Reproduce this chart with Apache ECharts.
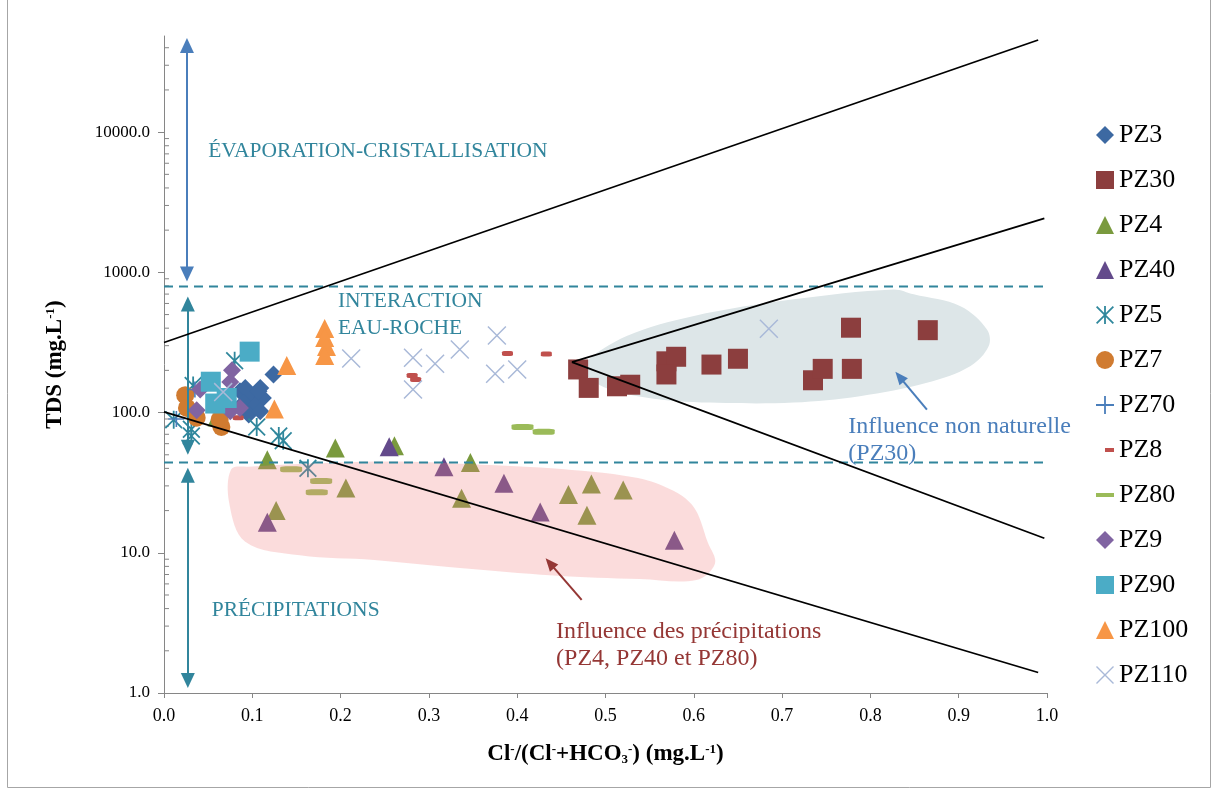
<!DOCTYPE html>
<html>
<head>
<meta charset="utf-8">
<title>TDS vs Cl/(Cl+HCO3)</title>
<script src="https://cdn.jsdelivr.net/npm/echarts@6/dist/echarts.min.js"></script>
<style>
  html, body { margin: 0; padding: 0; background: #fff; }
  #chart { width: 1213px; height: 791px; }
</style>
</head>
<body>
<div id="chart"></div>
<script>
// ---- data (x = Cl/(Cl+HCO3), y = TDS mg/L) ----
const pz3 = [[0.124, 187], [0.086, 142], [0.092, 150], [0.109, 150], [0.099, 131], [0.112, 127], [0.090, 117], [0.103, 111], [0.096, 97], [0.109, 102], [0.107, 142]]
const pz30 = [[0.469, 203], [0.481, 150], [0.513, 154], [0.528, 158], [0.569, 232], [0.580, 250], [0.569, 187], [0.620, 220], [0.650, 242], [0.735, 170], [0.746, 205], [0.778, 403], [0.779, 205], [0.865, 387]]
const pz4 = [[0.060, 93], [0.117, 46], [0.194, 56], [0.261, 58], [0.127, 20], [0.206, 29], [0.347, 44], [0.337, 24.5], [0.458, 26], [0.484, 31], [0.479, 18.5], [0.520, 28]]
const pz40 = [[0.117, 16.5], [0.255, 57], [0.317, 41], [0.385, 31.3], [0.426, 19.5], [0.578, 12.3]]
const pz5 = [[0.080, 234], [0.033, 156], [0.011, 89], [0.031, 76], [0.031, 68], [0.105, 79], [0.130, 68], [0.135, 63], [0.163, 40]]
const pz7 = [[0.024, 133], [0.026, 108], [0.037, 92], [0.065, 79], [0.063, 89]]
const pz70 = [[0.035, 146], [0.014, 90]]
const pz8 = [[0.084, 92], [0.281, 184], [0.285, 172], [0.389, 264], [0.433, 262]]
const pz80 = [[0.406, 79], [0.430, 73], [0.144, 39.5], [0.178, 32.5], [0.173, 27]]
const pz9 = [[0.077, 200], [0.075, 165], [0.041, 146], [0.037, 104], [0.075, 102], [0.086, 108]]
const pz90 = [[0.097, 272], [0.053, 166], [0.058, 116], [0.071, 127]]
const pz100 = [[0.182, 398], [0.182, 343], [0.184, 296], [0.182, 255], [0.139, 217], [0.125, 106]]
const pz110 = [[0.067, 140], [0.212, 243], [0.282, 246], [0.282, 146], [0.307, 223], [0.335, 282], [0.377, 355], [0.375, 189], [0.400, 203], [0.685, 396]]

// guide lines
const line1 = [[0, 316], [0.99, 45400]]
const line2 = [[0, 101], [0.99, 1.4]]
const wedgeUp = [[0.462, 229], [0.997, 2430]]
const wedgeDown = [[0.462, 229], [0.997, 12.7]]
const limitHigh = [[0, 794], [0.998, 794]]
const limitLow = [[0, 44], [0.998, 44]]

// shaded zones (outline in data units)
const zoneNonNatural = [[0.475, 220], [0.524, 351], [0.599, 487], [0.713, 642], [0.826, 756], [0.849, 697], [0.902, 574], [0.932, 392], [0.934, 298], [0.913, 214], [0.864, 163], [0.788, 131], [0.713, 118], [0.637, 117], [0.562, 124], [0.505, 146], [0.479, 182]]
const zonePrecip = [[0.076, 39.2], [0.074, 22.4], [0.092, 12.0], [0.154, 9.6], [0.238, 8.9], [0.335, 7.8], [0.441, 6.9], [0.539, 6.5], [0.603, 6.4], [0.624, 8.4], [0.616, 11.8], [0.598, 22.0], [0.562, 30.6], [0.521, 35.5], [0.426, 40.5], [0.359, 42.5], [0.267, 44.7], [0.197, 44.0], [0.096, 41.1]]

const xTicks = [0, 0.1, 0.2, 0.3, 0.4, 0.5, 0.6, 0.7, 0.8, 0.9, 1.0]
const yMax = 48500

const serif = "'Liberation Serif', 'Times New Roman', serif"
const teal = '#31859c'

const minorTickVals = []
for (let d = 0; d <= 4; d++) {
  for (let m = 2; m <= 9; m++) {
    const v = m * Math.pow(10, d)
    if (v < yMax) minorTickVals.push([0, v])
  }
}

const asterisk = 'path://M9,0H11V20H9Z M0,1.4L1.4,0L20,18.6L18.6,20Z M18.6,0L20,1.4L1.4,20L0,18.6Z'
const cross = 'path://M0,1.1L1.1,0L20,18.9L18.9,20Z M18.9,0L20,1.1L1.1,20L0,18.9Z'
const plus = 'path://M9,0H11V20H9Z M0,9H20V11H0Z'
const smallDash = 'path://M0,0L0.01,0L0,0.01Z M18,18L17.99,18L18,17.99Z M9,7H18V11H9Z'
const longDash = 'path://M0,0L0.01,0L0,0.01Z M18,18L17.99,18L18,17.99Z M0,7H18V11H0Z'

function scatter(name, data, symbol, size, color) {
  return {
    name: name,
    type: 'scatter',
    data: data,
    symbol: symbol,
    symbolSize: size,
    itemStyle: { color: color, opacity: 1 },
    z: 3,
    emphasis: { disabled: true }
  }
}

function guide(data, color, width, type) {
  return {
    type: 'line',
    data: data,
    symbol: 'none',
    silent: true,
    z: 5,
    lineStyle: { color: color, width: width, type: type || 'solid' },
    emphasis: { disabled: true }
  }
}

function zone(pts, color, opacity, z) {
  return {
    type: 'custom',
    data: [pts[0]],
    silent: true,
    clip: false,
    z: z,
    renderItem: (params, api) => ({
      type: 'polygon',
      shape: { points: pts.map(p => api.coord(p)), smooth: 0.35 },
      style: { fill: color, opacity: opacity }
    })
  }
}

const chart = echarts.init(document.getElementById('chart'))

const option = {
  animation: false,
  backgroundColor: '#fff',
  grid: { left: 164, right: 166, top: 36, bottom: 98, containLabel: false, outerBoundsMode: 'none' },
  legend: {
    orient: 'vertical',
    left: 1091,
    top: 117,
    itemWidth: 18,
    itemHeight: 18,
    itemGap: 19,
    textStyle: { fontFamily: serif, fontSize: 26, color: '#000' },
    data: [
      'PZ3', 'PZ30', 'PZ4', 'PZ40', 'PZ5', 'PZ7', 'PZ70',
      { name: 'PZ8', icon: smallDash },
      { name: 'PZ80', icon: longDash },
      'PZ9', 'PZ90', 'PZ100', 'PZ110'
    ]
  },
  xAxis: {
    type: 'value',
    min: 0,
    max: 1,
    interval: 0.1,
    axisLine: { show: true, onZero: false, lineStyle: { color: '#868686', width: 1 } },
    axisTick: { show: true, length: 5, lineStyle: { color: '#868686' } },
    splitLine: { show: false },
    axisLabel: {
      formatter: v => xTicks.includes(Math.round(v * 10) / 10) ? v.toFixed(1) : '',
      fontFamily: serif,
      fontSize: 18,
      color: '#000',
      margin: 14
    },
    name: 'Cl{sup|-}/(Cl{sup|-}+HCO{sub|3}{sup|-}) (mg.L{sup|-1})',
    nameLocation: 'middle',
    nameGap: 50,
    nameTextStyle: {
      fontFamily: serif,
      fontWeight: 'bold',
      fontSize: 23,
      color: '#000',
      rich: {
        sup: { fontFamily: serif, fontWeight: 'bold', fontSize: 13, color: '#000', verticalAlign: 'top' },
        sub: { fontFamily: serif, fontWeight: 'bold', fontSize: 13, color: '#000', verticalAlign: 'bottom' }
      }
    }
  },
  yAxis: {
    type: 'log',
    logBase: 10,
    min: 1,
    max: yMax,
    axisLine: { show: true, lineStyle: { color: '#868686', width: 1 } },
    axisTick: { show: true, length: 6, lineStyle: { color: '#868686' } },
    splitLine: { show: false },
    axisLabel: {
      formatter: v => Number(v).toFixed(1),
      showMaxLabel: false,
      fontFamily: serif,
      fontSize: 17,
      color: '#000',
      margin: 14
    },
    name: 'TDS (mg.L{sup|-1})',
    nameLocation: 'middle',
    nameGap: 97,
    nameTextStyle: {
      fontFamily: serif,
      fontWeight: 'bold',
      fontSize: 23,
      color: '#000',
      rich: {
        sup: { fontFamily: serif, fontWeight: 'bold', fontSize: 13, color: '#000', verticalAlign: 'top' }
      }
    }
  },
  series: [
    zone(zoneNonNatural, '#dde6e8', 1, 1),
    {
      type: 'custom',
      data: minorTickVals,
      silent: true,
      clip: false,
      z: 2,
      renderItem: (params, api) => {
        const p = api.coord([0, api.value(1)])
        return {
          type: 'line',
          shape: { x1: p[0], y1: p[1], x2: p[0] + 5, y2: p[1] },
          style: { stroke: '#868686', lineWidth: 1 }
        }
      }
    },
    scatter('PZ3', pz3, 'diamond', 18, '#3d69a2'),
    scatter('PZ30', pz30, 'rect', 20, '#8c3e3e'),
    scatter('PZ4', pz4, 'triangle', 19, '#7a9a3e'),
    scatter('PZ40', pz40, 'triangle', 19, '#634a8b'),
    scatter('PZ5', pz5, asterisk, 18, '#2f879c'),
    scatter('PZ7', pz7, 'circle', 18, '#d07b30'),
    scatter('PZ70', pz70, plus, 16, '#4a7ebb'),
    scatter('PZ8', pz8, 'roundRect', [11, 5], '#c0504d'),
    scatter('PZ80', pz80, 'roundRect', [22, 6], '#9bbb59'),
    scatter('PZ9', pz9, 'diamond', 18, '#8064a2'),
    scatter('PZ90', pz90, 'rect', 20, '#4bacc6'),
    scatter('PZ100', pz100, 'triangle', 19, '#f79646'),
    scatter('PZ110', pz110, cross, 19, '#a9b9d8'),
    zone(zonePrecip, '#f08080', 0.28, 4),
    guide(limitHigh, teal, 2, [9, 6]),
    guide(limitLow, teal, 2, [9, 6]),
    guide(line1, '#000', 1.8),
    guide(line2, '#000', 1.8),
    guide(wedgeUp, '#000', 1.8),
    guide(wedgeDown, '#000', 1.8),
    {
      type: 'line',
      data: [],
      silent: true,
      z: 6,
      markLine: {
        silent: true,
        animation: false,
        symbol: ['triangle', 'triangle'],
        symbolSize: [14, 15],
        label: { show: false },
        emphasis: { disabled: true },
        lineStyle: { type: 'solid', width: 2 },
        data: [
          [{ coord: [0.026, 41500], lineStyle: { color: '#4a7ebb' }, itemStyle: { color: '#4a7ebb' } }, { coord: [0.026, 975] }],
          [{ coord: [0.027, 595], lineStyle: { color: teal }, itemStyle: { color: teal } }, { coord: [0.027, 56.7] }],
          [{ coord: [0.027, 35.8], lineStyle: { color: teal }, itemStyle: { color: teal } }, { coord: [0.027, 1.23] }],
          [{ coord: [0.864, 105], symbol: 'none', lineStyle: { color: '#4a7ebb' }, itemStyle: { color: '#4a7ebb' } }, { coord: [0.833, 180], symbol: 'triangle', symbolSize: [11, 13] }],
          [{ coord: [0.473, 4.62], symbol: 'none', lineStyle: { color: '#953735' }, itemStyle: { color: '#953735' } }, { coord: [0.437, 8.44], symbol: 'triangle', symbolSize: [11, 13] }]
        ]
      }
    }
  ]
}

chart.setOption(option)

// annotations placed in data units
const notes = [
  { text: 'ÉVAPORATION-CRISTALLISATION', at: [0.05, 7300], color: teal, size: 21.5 },
  { text: 'INTERACTION\nEAU-ROCHE', at: [0.197, 500], color: teal, size: 21.5 },
  { text: 'PRÉCIPITATIONS', at: [0.054, 3.9], color: teal, size: 21.5 },
  { text: 'Influence non naturelle\n(PZ30)', at: [0.775, 64], color: '#4a7ebb', size: 24 },
  { text: 'Influence des précipitations\n(PZ4, PZ40 et PZ80)', at: [0.444, 2.2], color: '#953735', size: 24 }
]

const graphics = notes.map(n => {
  const p = chart.convertToPixel({ gridIndex: 0 }, n.at)
  return {
    type: 'text',
    x: p[0],
    y: p[1],
    z: 10,
    silent: true,
    style: {
      text: n.text,
      fill: n.color,
      font: n.size + 'px ' + serif,
      lineHeight: 27,
      align: 'left',
      verticalAlign: 'middle'
    }
  }
})
graphics.push({
  type: 'rect',
  shape: { x: 7.5, y: -2, width: 1203, height: 789.5 },
  style: { fill: 'none', stroke: '#a6a6a6', lineWidth: 1 },
  silent: true
})

chart.setOption({ graphic: graphics })
</script>
</body>
</html>
